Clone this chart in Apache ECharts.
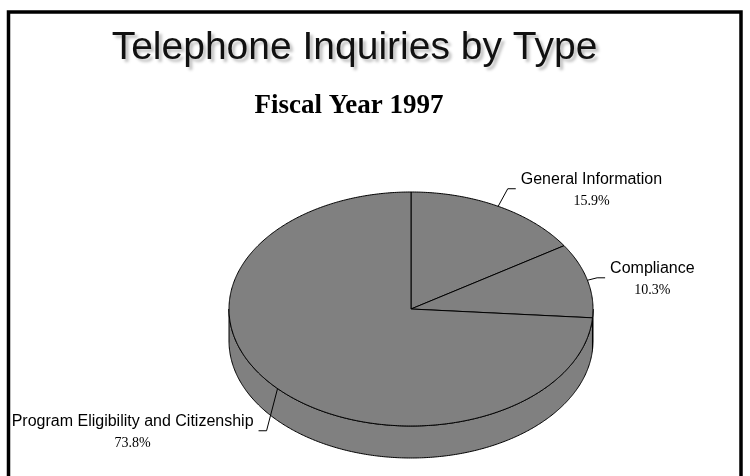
<!DOCTYPE html>
<html>
<head>
<meta charset="utf-8">
<script src="https://cdn.jsdelivr.net/npm/echarts@6/dist/echarts.min.js"></script>
<style>
html,body{margin:0;padding:0;background:#fff;}
#chart{width:750px;height:476px;}
</style>
</head>
<body>
<div id="chart"></div>
<script>
// ---- data ----
var categories = ['General Information', 'Compliance', 'Program Eligibility and Citizenship'];
var values = [15.9, 10.3, 73.8];
var percentLabels = ['15.9%', '10.3%', '73.8%'];
var titleText = 'Telephone Inquiries by Type';
var subtitleText = 'Fiscal Year 1997';

// ---- layout / style ----
var CX = 411, CY = 309, RX = 182, RY = 117, DEPTH = 32;
var labelLineLen = [20, 10, 15];
var FILL = '#808080';

var total = values.reduce(function (a, b) { return a + b; }, 0);
var cumStart = [];
(function () { var c = 0; for (var i = 0; i < values.length; i++) { cumStart.push(c); c += values[i]; } })();

function pt(theta, dy) {
  return [CX + RX * Math.sin(theta), CY - RY * Math.cos(theta) + (dy || 0)];
}
function arcPoints(a, b, dy) {
  var pts = [];
  var n = Math.max(8, Math.ceil(Math.abs(b - a) / 0.01));
  for (var k = 0; k <= n; k++) {
    pts.push(pt(a + (b - a) * k / n, dy));
  }
  return pts;
}

function renderItem(params, api) {
  var i = params.dataIndex;
  var v = api.value(0);
  var t1 = cumStart[i] / total * Math.PI * 2;
  var t2 = t1 + v / total * Math.PI * 2;
  var children = [];

  // side (front half only)
  var a = Math.max(t1, Math.PI / 2), b = Math.min(t2, Math.PI * 1.5);
  if (a < b) {
    var sidePts = arcPoints(a, b, 0).concat(arcPoints(b, a, DEPTH));
    children.push({
      type: 'polygon',
      shape: { points: sidePts },
      style: { fill: FILL, stroke: '#000', lineWidth: 1 }
    });
  }
  // top face
  var topPts = [[CX, CY]].concat(arcPoints(t1, t2, 0));
  children.push({
    type: 'polygon',
    shape: { points: topPts },
    style: { fill: FILL, stroke: '#000', lineWidth: 1 }
  });

  // label line
  var tm = (t1 + t2) / 2;
  var s = pt(tm, 0);
  var dir = [Math.sin(tm), -Math.cos(tm)];
  var L = labelLineLen[i];
  var elbow = [s[0] + dir[0] * L, s[1] + dir[1] * L + (Math.cos(tm) < 0 ? DEPTH : 0)];
  var side = Math.sin(tm) >= 0 ? 1 : -1;
  var end = [elbow[0] + side * 8, elbow[1]];
  children.push({
    type: 'polyline',
    shape: { points: [s, elbow, end] },
    style: { stroke: '#000', lineWidth: 1, fill: null }
  });
  children.push({
    type: 'text',
    style: {
      text: '{n|' + categories[i] + '}\n{p|' + percentLabels[i] + '}',
      x: end[0] + side * 5,
      y: end[1] + 1.5,
      align: side > 0 ? 'left' : 'right',
      textAlign: side > 0 ? 'left' : 'right',
      verticalAlign: 'middle',
      textVerticalAlign: 'middle',
      rich: {
        n: { font: '16px "Liberation Sans", Arial, sans-serif', fill: '#000', lineHeight: 22, align: 'center' },
        p: { font: '14px "Liberation Serif", "Times New Roman", serif', fill: '#000', lineHeight: 22, align: 'center' }
      }
    }
  });
  return { type: 'group', children: children };
}

var chart = echarts.init(document.getElementById('chart'), null, { renderer: 'canvas' });
chart.setOption({
  animation: false,
  backgroundColor: '#fff',
  graphic: [
    {
      type: 'rect',
      shape: { x: 8.5, y: 12, width: 732.5, height: 500 },
      style: { fill: null, stroke: '#000', lineWidth: 3.5 },
      z: 100
    },
    {
      type: 'text',
      style: {
        text: titleText,
        x: 354.5, y: 48,
        align: 'center', textAlign: 'center',
        verticalAlign: 'middle', textVerticalAlign: 'middle',
        font: '39px "Liberation Sans", Arial, sans-serif',
        fill: '#111',
        textShadowColor: 'rgba(0,0,0,0.25)', textShadowBlur: 3,
        textShadowOffsetX: 3, textShadowOffsetY: 3
      }
    },
    {
      type: 'text',
      style: {
        text: subtitleText,
        x: 349, y: 106,
        align: 'center', textAlign: 'center',
        verticalAlign: 'middle', textVerticalAlign: 'middle',
        font: 'bold 27px "Liberation Serif", "Times New Roman", serif',
        fill: '#000'
      }
    }
  ],
  series: [{
    type: 'custom',
    coordinateSystem: 'none',
    renderItem: renderItem,
    data: values.map(function (v, i) { return { name: categories[i], value: [v] }; })
  }]
});
</script>
</body>
</html>
